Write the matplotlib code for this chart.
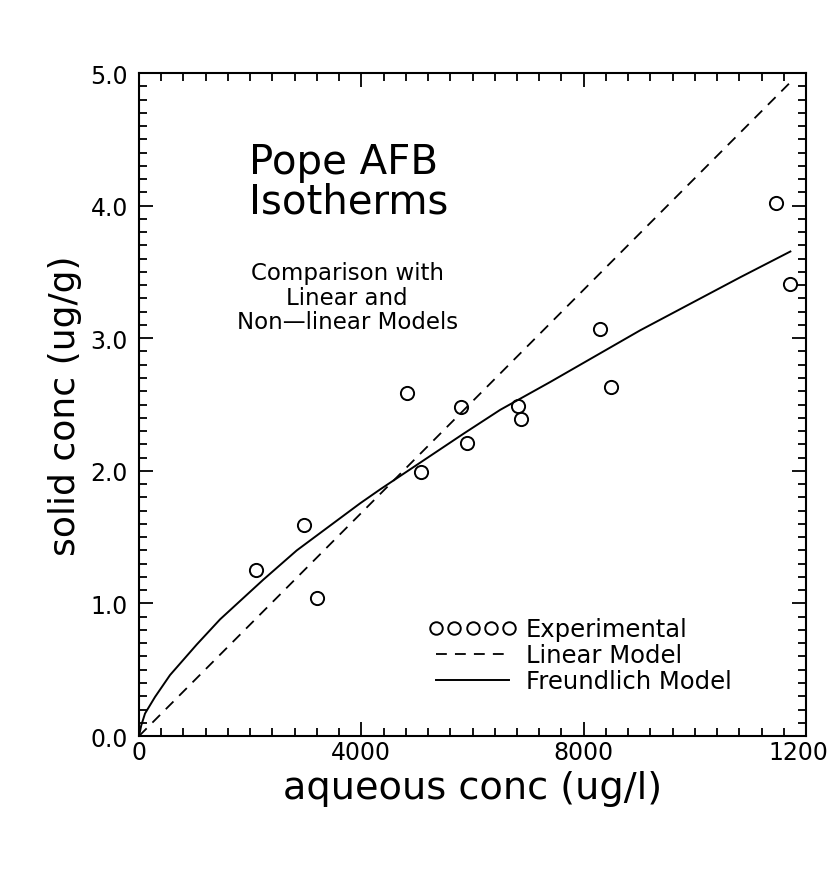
import matplotlib
matplotlib.use("Agg")
import matplotlib.pyplot as plt
from matplotlib.ticker import MultipleLocator
from matplotlib.lines import Line2D

# experimental points
exp_x = [2106, 2970, 3199, 4819, 5071, 5791, 5909, 6827, 6876, 8298, 8491, 11461, 11718]
exp_y = [1.25, 1.59, 1.04, 2.59, 1.99, 2.48, 2.21, 2.49, 2.39, 3.07, 2.63, 4.02, 3.41]

# linear model (straight line through origin)
lin_x = [0, 11718]
lin_y = [0.0, 4.93]

# freundlich model, sampled along the drawn curve
fr_x = [0, 40, 108, 288, 558, 1038, 1458, 2238, 2838, 3978, 4338, 5838, 6498, 7398, 9018, 10818, 11718]
fr_y = [0.0, 0.08, 0.17, 0.295, 0.46, 0.69, 0.88, 1.18, 1.40, 1.755, 1.86, 2.28, 2.46, 2.67, 3.06, 3.46, 3.654]

x_ticks = [0, 4000, 8000, 12000]
x_ticklabels = ["0", "4000", "8000", "12000"]
y_ticks = [0.0, 1.0, 2.0, 3.0, 4.0, 5.0]

plt.rcParams['font.family'] = ['DejaVu Sans']

fig = plt.figure(figsize=(8.29, 8.79), dpi=100)
ax = fig.add_axes([0.1677, 0.1615, 0.8046, 0.7543])

ax.plot(exp_x, exp_y, 'o', mfc='none', mec='black', ms=9.5, mew=1.4, clip_on=False)
ax.plot(lin_x, lin_y, color='black', lw=1.3, linestyle=(0, (6, 4.5)))
ax.plot(fr_x, fr_y, color='black', lw=1.4)

ax.set_xlim(0, 12000)
ax.set_ylim(0, 5.0)
ax.set_xticks(x_ticks)
ax.set_xticklabels(x_ticklabels)
ax.set_yticks(y_ticks)
ax.set_yticklabels(["%.1f" % v for v in y_ticks])
ax.xaxis.set_minor_locator(MultipleLocator(400))
ax.yaxis.set_minor_locator(MultipleLocator(0.1))
ax.tick_params(which='both', direction='in', top=True, right=True, width=1.3, labelsize=17)
ax.tick_params(which='major', length=10)
ax.tick_params(which='minor', length=6)
ax.tick_params(axis='x', pad=3)
ax.tick_params(axis='y', pad=8)
for s in ax.spines.values():
    s.set_linewidth(1.5)

ax.set_xlabel("aqueous conc (ug/l)", fontsize=27.5, labelpad=4)
ax.set_ylabel("solid conc (ug/g)", fontsize=26, labelpad=6)

ax.text(0.165, 0.836, "Pope AFB\nIsotherms", transform=ax.transAxes, fontsize=29,
        ha='left', va='center', linespacing=1.0)
ax.text(0.312, 0.662, "Comparison with\nLinear and\nNon\u2014linear Models", transform=ax.transAxes,
        fontsize=16.5, ha='center', va='center', linespacing=1.1)

handles = [
    Line2D([], [], marker='o', linestyle='none', mfc='none', mec='black', ms=9, mew=1.4),
    Line2D([], [], color='black', lw=1.3, linestyle=(0, (6, 4.5))),
    Line2D([], [], color='black', lw=1.4),
]
ax.legend(handles, ["Experimental", "Linear Model", "Freundlich Model"], numpoints=5,
          loc='lower left', bbox_to_anchor=(0.42, 0.05), frameon=False, fontsize=17.5,
          handlelength=3.6, handletextpad=0.4, labelspacing=0.08, borderaxespad=0)

fig.savefig("out.png", dpi=100)
